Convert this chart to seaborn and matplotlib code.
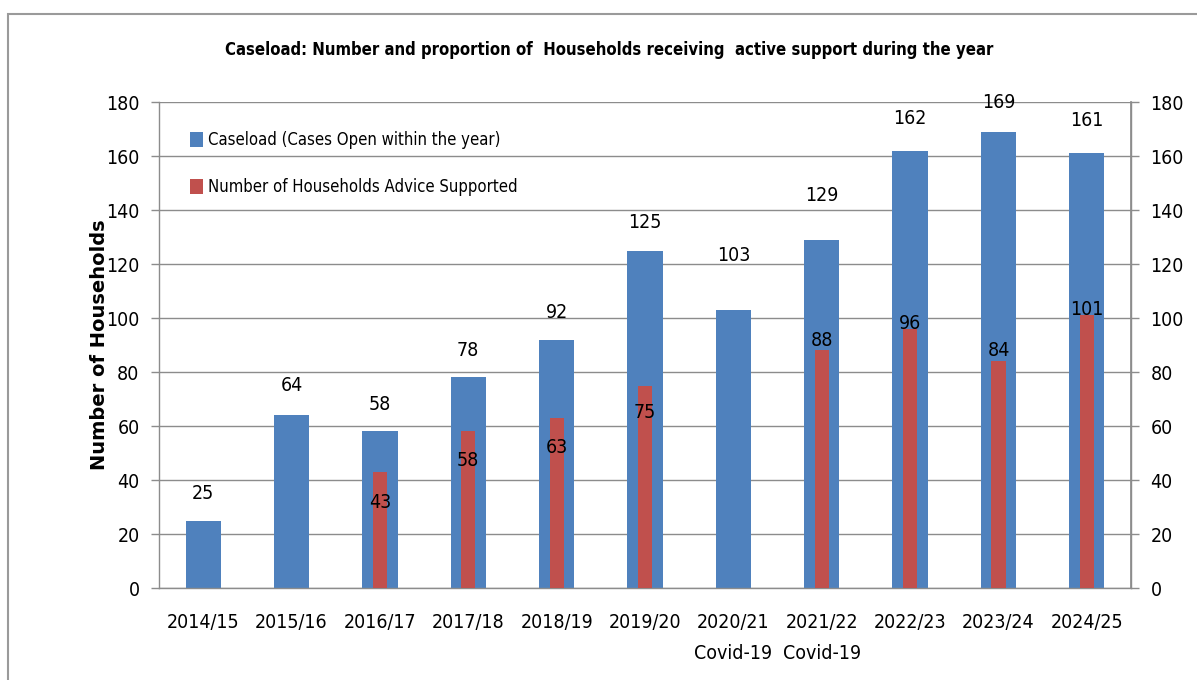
import numpy as np
import pandas as pd
import matplotlib
matplotlib.use("Agg")
import matplotlib.pyplot as plt
from matplotlib.patches import Patch, Rectangle
import seaborn as sns

# ---- data -------------------------------------------------------------
years = ["2014/15", "2015/16", "2016/17", "2017/18", "2018/19", "2019/20",
         "2020/21", "2021/22", "2022/23", "2023/24", "2024/25"]
year_notes = ["", "", "", "", "", "", "Covid-19", "Covid-19", "", "", ""]
caseload = [25, 64, 58, 78, 92, 125, 103, 129, 162, 169, 161]
advice = [np.nan, np.nan, 43, 58, 63, 75, np.nan, 88, 96, 84, 101]

series_names = ["Caseload (Cases Open within the year)",
                "Number of Households Advice Supported"]
title = ("Caseload: Number and proportion of  Households receiving  "
         "active support during the year")
y_title = "Number of Households"

# ---- style ------------------------------------------------------------
sns.set_theme(style="white")
plt.rcParams["font.family"] = ["DejaVu Sans"]
plt.rcParams["font.stretch"] = "condensed"
plt.rcParams["text.color"] = "black"
plt.rcParams["axes.labelcolor"] = "black"
plt.rcParams["xtick.labelcolor"] = "black"
plt.rcParams["ytick.labelcolor"] = "black"

BLUE = "#4F81BD"
RED = "#C0504D"
GRID = "#8C8C8C"
FS = 14

W, H = 1197, 680
fig = plt.figure(figsize=(W / 100, H / 100), dpi=100)
fig.patch.set_facecolor("white")

# outer chart frame
fig.patches.append(Rectangle((8 / W, -0.2), 1.2, 1 - 14 / H + 0.2,
                             transform=fig.transFigure, fill=False,
                             edgecolor="#9A9A9A", linewidth=1.5, zorder=0))

L, R, B, T = 159, 1131, 588, 102
ax = fig.add_axes([L / W, 1 - B / H, (R - L) / W, (B - T) / H])

df_case = pd.DataFrame({"year": years, "value": caseload})
df_adv = pd.DataFrame({"year": years, "value": advice}).dropna()

sns.barplot(data=df_case, x="year", y="value", order=years, color=BLUE,
            saturation=1, width=0.40, linewidth=0, ax=ax, zorder=2)
sns.barplot(data=df_adv, x="year", y="value", order=years, color=RED,
            saturation=1, width=0.16, linewidth=0, ax=ax, zorder=3)

ax.set_ylim(0, 180)
ax.set_xlim(-0.5, len(years) - 0.5)
ax.set_yticks(range(0, 181, 20))
ax.yaxis.grid(True, color=GRID, linewidth=1.0, zorder=0)
ax.set_axisbelow(True)

# category labels centred, tick marks on the category boundaries
ax.set_xticks(range(len(years)))
ax.set_xticklabels([y if not n else f"{y}\n{n}" for y, n in zip(years, year_notes)],
                   fontsize=FS, linespacing=1.8)
ax.set_xticks(np.arange(-0.5, len(years), 1.0), minor=True)
ax.tick_params(axis="x", which="major", length=0, pad=18)
ax.tick_params(axis="x", which="minor", length=7, width=1, color=GRID,
               direction="out")
ax.tick_params(axis="y", length=6, width=1, color=GRID, direction="out",
               labelsize=FS, pad=8)
ax.set_xlabel("")
ax.set_ylabel(y_title, family="DejaVu Sans", fontstretch="normal",
              fontweight="bold", fontsize=14, labelpad=-2)

ax.spines["top"].set_visible(False)
for side in ("left", "bottom", "right"):
    ax.spines[side].set_color(GRID)
    ax.spines[side].set_linewidth(1.0)

# mirrored scale on the right
ax2 = ax.twinx()
ax2.set_ylim(ax.get_ylim())
ax2.set_yticks(range(0, 181, 20))
ax2.tick_params(axis="y", length=6, width=1, color=GRID, direction="out",
                labelsize=FS, pad=8)
ax2.grid(False)
for side in ("top", "left", "bottom"):
    ax2.spines[side].set_visible(False)
ax2.spines["right"].set_color(GRID)

# value labels
case_lift = [10, 11, 10, 10, 10, 10.5, 20, 16.5, 12, 11, 12]
for i, (v, d) in enumerate(zip(caseload, case_lift)):
    ax.text(i, v + d, f"{v}", ha="center", va="center", fontsize=FS,
            color="black", zorder=5)
adv_shift = [0, 0, -11.5, -10.6, -11, -10, 0, 3.5, 2, 4, 2]
for i, (v, d) in enumerate(zip(advice, adv_shift)):
    if np.isnan(v):
        continue
    ax.text(i, v + d, f"{int(v)}", ha="center", va="center", fontsize=FS,
            color="black", zorder=5)

handles = [Patch(facecolor=BLUE, edgecolor="none"),
           Patch(facecolor=RED, edgecolor="none")]
ax.legend(handles, series_names, loc="upper left",
          bbox_to_anchor=(0.032, 0.94), frameon=False, fontsize=12,
          handlelength=0.8, handleheight=1.0, handletextpad=0.25,
          labelspacing=1.75, borderaxespad=0, borderpad=0)

fig.text(609 / W, 1 - 50 / H, title, ha="center", va="center",
         fontsize=12, fontweight="bold")

fig.savefig("out.png", dpi=100, facecolor="white")
